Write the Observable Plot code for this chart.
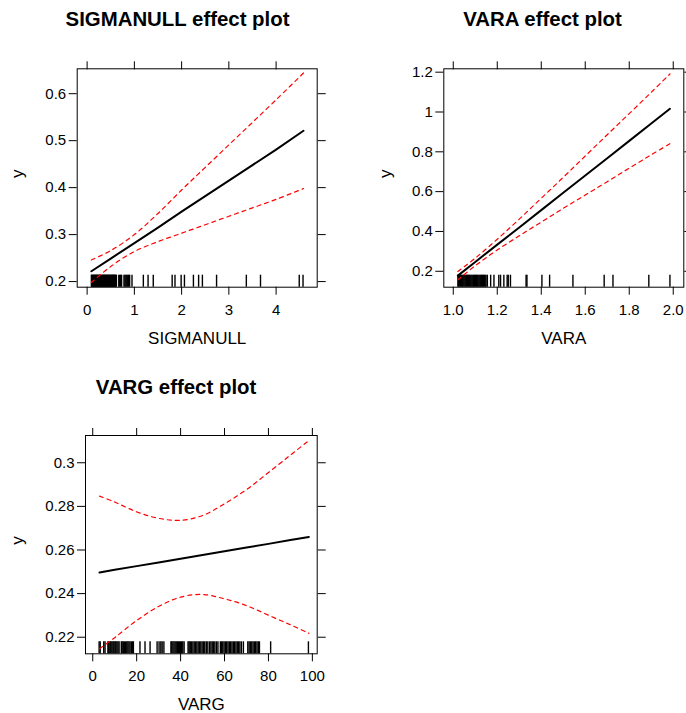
<!DOCTYPE html>
<html>
<head>
<meta charset="utf-8">
<script src="https://cdn.jsdelivr.net/npm/d3@7"></script>
<script src="https://cdn.jsdelivr.net/npm/@observablehq/plot@0.6"></script>
<style>
  html, body { margin: 0; padding: 0; background: white; }
  #wrap { position: relative; width: 686px; height: 713px; overflow: hidden; background: white; }
  #wrap > svg { position: absolute; }
</style>
</head>
<body>
<div id="wrap"></div>
<script>
// ---------- SIGMANULL panel ----------
const sigmaX     = [0.09, 0.5, 1, 1.5, 2, 2.5, 3, 3.5, 4, 4.58];
const sigmaFit   = [0.222, 0.249, 0.282, 0.315, 0.349, 0.382, 0.415, 0.448, 0.481, 0.521];
const sigmaUpper = [0.246, 0.266, 0.300, 0.345, 0.395, 0.443, 0.491, 0.539, 0.587, 0.644];
const sigmaLower = [0.198, 0.232, 0.264, 0.285, 0.303, 0.321, 0.339, 0.357, 0.375, 0.398];
const sigmaRug = [0.09, 0.10, 0.11, 0.12, 0.13, 0.14, 0.15, 0.16, 0.17, 0.18, 0.19, 0.20, 0.21, 0.22,
  0.23, 0.24, 0.25, 0.26, 0.27, 0.28, 0.29, 0.30, 0.31, 0.32, 0.33, 0.34, 0.35, 0.36, 0.37, 0.38, 0.39,
  0.40, 0.41, 0.42, 0.43, 0.44, 0.45, 0.46, 0.47, 0.48, 0.49, 0.50, 0.51, 0.52, 0.53, 0.54, 0.55, 0.56,
  0.57, 0.58, 0.59, 0.60, 0.61, 0.62, 0.67, 0.69, 0.71, 0.73, 0.78, 0.80, 0.82, 0.84, 0.86, 0.88, 0.90,
  0.95, 1.19, 1.29, 1.40, 1.80, 1.86, 1.99, 2.06, 2.25, 2.36, 2.44, 2.74, 3.37, 3.67, 4.49, 4.57];
const sigmaXTicks = [0, 1, 2, 3, 4];
const sigmaYTicks = [0.2, 0.3, 0.4, 0.5, 0.6];

// ---------- VARA panel ----------
const varaX     = [1.021, 1.1, 1.2, 1.3, 1.4, 1.5, 1.6, 1.7, 1.8, 1.9, 1.985];
const varaFit   = [0.178, 0.247, 0.334, 0.420, 0.507, 0.594, 0.681, 0.768, 0.855, 0.942, 1.016];
const varaUpper = [0.199, 0.266, 0.361, 0.462, 0.567, 0.672, 0.779, 0.886, 0.992, 1.099, 1.191];
const varaLower = [0.157, 0.228, 0.307, 0.378, 0.447, 0.516, 0.583, 0.650, 0.718, 0.785, 0.841];
const varaRug = [1.021, 1.025, 1.029, 1.033, 1.037, 1.041, 1.045, 1.049, 1.053, 1.057, 1.061, 1.065,
  1.069, 1.073, 1.077, 1.081, 1.085, 1.089, 1.093, 1.097, 1.101, 1.105, 1.109, 1.113, 1.117, 1.121,
  1.125, 1.129, 1.133, 1.137, 1.141, 1.145, 1.149, 1.155, 1.17, 1.185, 1.207, 1.215, 1.23, 1.245,
  1.25, 1.26, 1.331, 1.335, 1.403, 1.438, 1.544, 1.686, 1.726, 1.889, 1.985];
const varaXTicks = [1.0, 1.2, 1.4, 1.6, 1.8, 2.0];
const varaYTicks = [0.2, 0.4, 0.6, 0.8, 1.0, 1.2];

// ---------- VARG panel ----------
const vargX     = [3.1, 10, 20, 30, 40, 50, 60, 70, 80, 90, 98.4];
const vargFit   = [0.2497, 0.2509, 0.2526, 0.2543, 0.2560, 0.2577, 0.2594, 0.2611, 0.2628, 0.2646, 0.2660];
const vargUpper = [0.2847, 0.2820, 0.2775, 0.2745, 0.2736, 0.2758, 0.2812, 0.2877, 0.2955, 0.3035, 0.3102];
const vargLower = [0.2147, 0.2198, 0.2277, 0.2341, 0.2384, 0.2396, 0.2376, 0.2345, 0.2301, 0.2257, 0.2218];
const vargRug = [2.9, 3.4, 5.0, 5.6, 6.9, 7.3, 7.8, 8.2, 8.7, 9.2, 9.6, 10.1, 10.5, 11.0, 11.5, 12.0,
  13.0, 13.4, 13.9, 14.4, 15.0, 15.5, 16.0, 16.5, 17.0, 17.6, 18.2, 18.5, 21.5, 23.8, 26.1, 29.3,
  30.2, 31.0, 31.6, 32.4, 35.6, 36.0, 36.5, 37.0, 37.5, 38.0, 38.5, 39.0, 39.5, 40.0, 40.5, 41.0,
  41.6, 43.4, 43.9, 44.4, 45.0, 45.6, 46.2, 46.8, 47.4, 48.0, 48.6, 49.2, 49.8, 50.4, 51.0, 51.7,
  52.4, 53.2, 53.8, 54.4, 55.0, 55.6, 56.3, 57.0, 58.1, 58.6, 59.2, 59.8, 60.4, 61.0, 61.6, 62.2,
  62.8, 63.4, 64.0, 64.6, 65.2, 65.8, 66.4, 67.0, 67.7, 68.6, 70.6, 71.2, 71.8, 72.4, 73.0, 73.6,
  74.2, 74.8, 75.4, 75.9, 81.0, 98.2];
const vargXTicks = [0, 20, 40, 60, 80, 100];
const vargYTicks = [0.22, 0.24, 0.26, 0.28, 0.30];

const fontFamily = "'Liberation Sans', Arial, Helvetica, sans-serif";
const fmtG = d3.format("~g");

function panel(c) {
  const rows = c.xs.map((x, i) => ({x, fit: c.fit[i], lower: c.lower[i], upper: c.upper[i]}));
  const frameH = c.height - c.mt - c.mb;
  const svg = Plot.plot({
    width: c.width, height: c.height,
    marginLeft: c.ml, marginRight: c.mr, marginTop: c.mt, marginBottom: c.mb,
    x: {domain: c.xDomain},
    y: {domain: c.yDomain},
    style: {fontFamily, fontSize: "15px", color: "black", background: "white", overflow: "visible"},
    marks: [
      Plot.ruleX(c.rug, {x: d => d, insetTop: frameH - 12, stroke: "black", strokeWidth: 1.4}),
      Plot.line(rows, {x: "x", y: "upper", stroke: "#ff0000", strokeWidth: 1.2, strokeDasharray: "4,4", curve: "catmull-rom"}),
      Plot.line(rows, {x: "x", y: "lower", stroke: "#ff0000", strokeWidth: 1.2, strokeDasharray: "4,4", curve: "catmull-rom"}),
      Plot.line(rows, {x: "x", y: "fit", stroke: "black", strokeWidth: 2}),
      Plot.frame({stroke: "black"}),
      Plot.axisX({anchor: "bottom", ticks: c.xTicks, tickFormat: c.xFormat, tickSize: 8, tickPadding: 9, label: null}),
      Plot.axisX({anchor: "top", ticks: c.xTicks, tickFormat: () => "", tickSize: 8, label: null}),
      Plot.axisY({anchor: "left", ticks: c.yTicks, tickFormat: fmtG, tickSize: 8, tickPadding: 3, label: null}),
      Plot.axisY({anchor: "right", ticks: c.yTicks, tickFormat: () => "", tickSize: 8, label: null}),
      Plot.text([c.title], {text: d => d, frameAnchor: "top", lineAnchor: "bottom", dx: c.titleDx, dy: c.titleDy, fontWeight: "bold", fontSize: 20.4}),
      Plot.text([c.xlabel], {text: d => d, frameAnchor: "bottom", lineAnchor: "bottom", dy: 56.6, fontSize: 17}),
      Plot.text(["y"], {text: d => d, frameAnchor: "left", lineAnchor: "bottom", rotate: -90, dx: c.yLabelDx, fontSize: 17})
    ]
  });
  svg.style.left = c.left + "px";
  svg.style.top = c.top + "px";
  document.getElementById("wrap").appendChild(svg);
}

panel({
  left: 0, top: 0, width: 343, height: 356, ml: 76.7, mr: 26.3, mt: 68.3, mb: 69.3,
  xDomain: [-0.21, 4.87], yDomain: [0.188, 0.653],
  xTicks: sigmaXTicks, yTicks: sigmaYTicks, xFormat: d3.format("d"),
  xs: sigmaX, fit: sigmaFit, lower: sigmaLower, upper: sigmaUpper, rug: sigmaRug,
  title: "SIGMANULL effect plot", xlabel: "SIGMANULL",
  titleDx: -19.7, titleDy: -43.3, yLabelDx: -54.6
});

panel({
  left: 343, top: 0, width: 343, height: 356, ml: 100.3, mr: 2.7, mt: 68.3, mb: 69.3,
  xDomain: [0.957, 2.048], yDomain: [0.12, 1.217],
  xTicks: varaXTicks, yTicks: varaYTicks, xFormat: d3.format(".1f"),
  xs: varaX, fit: varaFit, lower: varaLower, upper: varaUpper, rug: varaRug,
  title: "VARA effect plot", xlabel: "VARA",
  titleDx: -21.3, titleDy: -43.3, yLabelDx: -52.8
});

panel({
  left: 0, top: 356, width: 343, height: 357, ml: 85, mr: 26.3, mt: 79, mb: 59.7,
  xDomain: [-3.3, 102.2], yDomain: [0.2124, 0.3125],
  xTicks: vargXTicks, yTicks: vargYTicks, xFormat: d3.format("d"),
  xs: vargX, fit: vargFit, lower: vargLower, upper: vargUpper, rug: vargRug,
  title: "VARG effect plot", xlabel: "VARG",
  titleDx: -25.3, titleDy: -42, yLabelDx: -62.9
});
</script>
</body>
</html>
